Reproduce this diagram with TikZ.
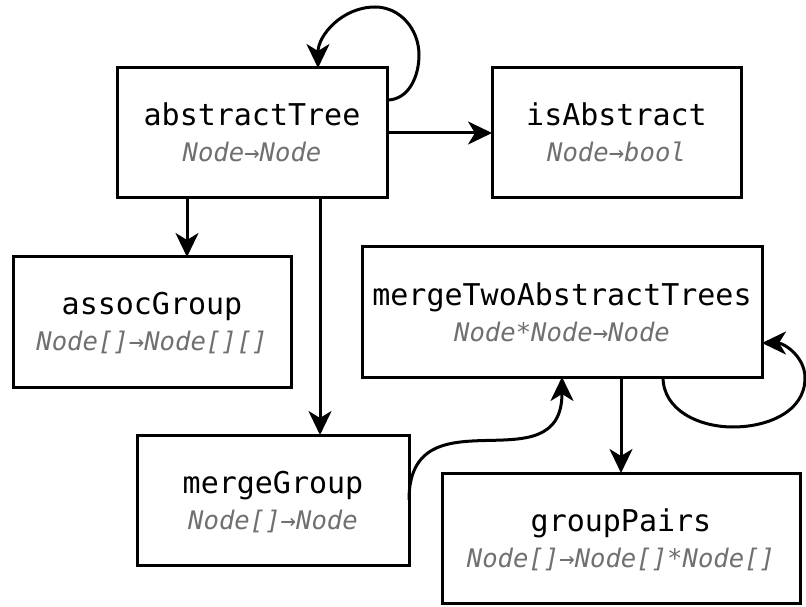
\documentclass[tikz,border=0pt]{standalone}
\usepackage{fontspec}
\setmonofont{DejaVu Sans Mono}
\usetikzlibrary{arrows.meta}
\definecolor{subgray}{HTML}{707070}
\begin{document}
\begin{tikzpicture}[x=1pt,y=1pt,
  box/.style={draw, line width=3pt, inner sep=0pt, outer sep=0pt, minimum height=130pt},
  ttl/.style={anchor=base, inner sep=0pt, font=\ttfamily\fontsize{30}{36}\selectfont},
  sub/.style={anchor=base, inner sep=0pt, text=subgray, font=\ttfamily\itshape\fontsize{25.6}{30}\selectfont},
  arr/.style={line width=3pt, -{Stealth[length=24pt,width=23pt,inset=7pt]}}]
\useasboundingbox (0,0) rectangle (806,606);
% boxes
\node[box, minimum width=270pt] (at) at (252,473) {};
\node[ttl] (atT) at (252,480) {abstractTree};
\node[sub] (atS) at (252,444) {Node→Node};
\node[box, minimum width=249pt] (isA) at (616.5,473) {};
\node[ttl] (isAT) at (616.5,480) {isAbstract};
\node[sub] (isAS) at (616.5,444) {Node→bool};
\node[box, minimum width=278pt] (as) at (152,284) {};
\node[ttl] (asT) at (152,291) {assocGroup};
\node[sub] (asS) at (152,255) {Node[]→Node[][]};
\node[box, minimum width=400pt] (mt) at (562,294) {};
\node[ttl] (mtT) at (562,301) {mergeTwoAbstractTrees};
\node[sub] (mtS) at (562,265) {Node*Node→Node};
\node[box, minimum width=272pt] (mg) at (273,106) {};
\node[ttl] (mgT) at (273,113) {mergeGroup};
\node[sub] (mgS) at (273,77) {Node[]→Node};
\node[box, minimum width=358pt] (gp) at (621,68) {};
\node[ttl] (gpT) at (621,75) {groupPairs};
\node[sub] (gpS) at (621,39) {Node[]→Node[]*Node[]};
% connectors
\coordinate (l1) at (419,551);
\coordinate (l2) at (375,599);
\draw[arr] ([yshift=33pt]at.east) to[out=0,in=-90] (l1) to[out=90,in=0] (l2) to[out=180,in=90] ([xshift=66pt]at.north);
\draw[arr] (at.east) -- (isA.west);
\draw[arr] ([xshift=-65pt]at.south) -- ([xshift=-65pt]at.south |- as.north);
\draw[arr] ([xshift=68pt]at.south) -- ([xshift=68pt]at.south |- mg.north);
\draw[arr] (gp.north |- mt.south) -- (gp.north);
\draw[arr] (mg.east) to[out=90,in=-90,looseness=1.45] (mt.south);
\coordinate (m1) at (733,179);
\coordinate (m2) at (805,228);
\draw[arr] ([xshift=101pt]mt.south) to[out=-90,in=180] (m1) to[out=0,in=-90] (m2) to[out=90,in=0] ([yshift=-31pt]mt.east);
\end{tikzpicture}
\end{document}
